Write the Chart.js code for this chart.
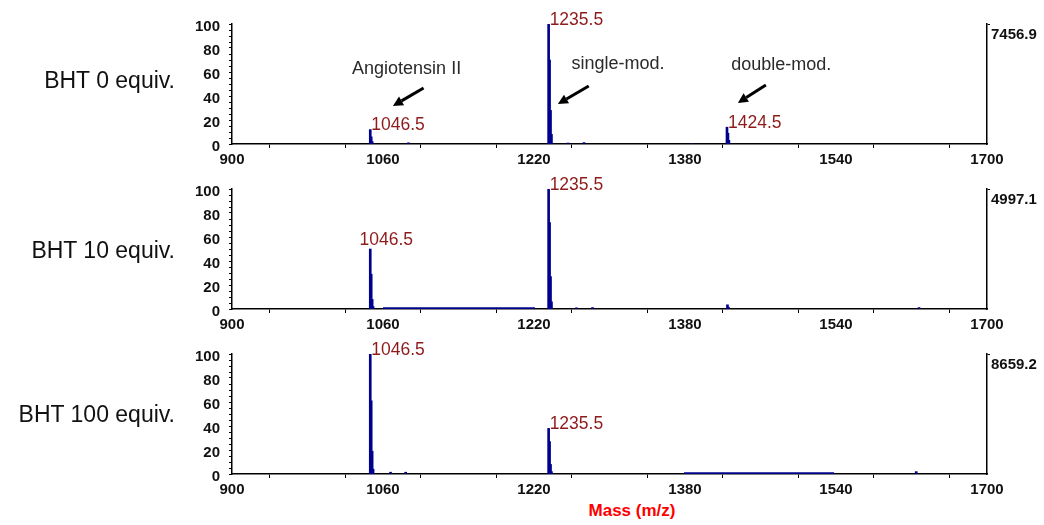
<!DOCTYPE html>
<html><head><meta charset="utf-8">
<script src="https://cdn.jsdelivr.net/npm/chart.js@4.4.1/dist/chart.umd.min.js"></script>
<style>
body{margin:0;background:#fff;}
#wrap{position:relative;width:1044px;height:525px;background:#fff;overflow:hidden;font-family:'Liberation Sans',Arial,sans-serif;}
.panel{position:absolute;left:0;width:1044px;height:170px;}
.rowlab{position:absolute;right:869px;font-size:23px;color:#111;white-space:nowrap;transform:translateY(-50%);}
#xtitle{position:absolute;left:632px;top:511px;transform:translate(-50%,-50%);color:#f00;font-weight:bold;font-size:17px;white-space:nowrap;}
</style></head>
<body><div id="wrap">
<div class="panel" style="top:0"><canvas id="c0" width="1044" height="170"></canvas></div>
<div class="panel" style="top:165px"><canvas id="c1" width="1044" height="170"></canvas></div>
<div class="panel" style="top:330px"><canvas id="c2" width="1044" height="170"></canvas></div>
<div class="rowlab" id="r0" style="top:80px"></div>
<div class="rowlab" id="r1" style="top:250px"></div>
<div class="rowlab" id="r2" style="top:414px"></div>
<div id="xtitle"></div>
</div>
<script>
// ---------- data ----------
const panelLabels = ['BHT 0 equiv.', 'BHT 10 equiv.', 'BHT 100 equiv.'];
const maxCounts = ['7456.9', '4997.1', '8659.2'];
const xTitle = 'Mass (m/z)';
const xMin = 900, xMax = 1700;
const xTickLabels = [900, 1060, 1220, 1380, 1540, 1700];
const yTickLabels = [0, 20, 40, 60, 80, 100];

// BHT 0 equiv.
const mz0  = [1046.5, 1047.5, 1048.5, 1087, 1235.5, 1236.5, 1237.5, 1238.5, 1256, 1273, 1388, 1424.5, 1425.5, 1426.5];
const int0 = [12, 6, 2, 1, 100, 70, 28, 8, 0.8, 1.2, 0.4, 14, 9, 3];
const peaks0 = ['1046.5', '1235.5', '1424.5'];

// BHT 10 equiv.
const mz10  = [1046.5, 1047.5, 1048.5, 1049.5, 1235.5, 1236.5, 1237.5, 1238.5, 1265, 1282, 1425, 1426, 1628];
const int10 = [50, 29, 8, 2, 100, 72, 27, 6, 1, 1.2, 3.5, 1.5, 1.2];
const base10Mz = [1060, 1221];
const base10Int = [0.6, 0.6];
const peaks10 = ['1046.5', '1235.5'];

// BHT 100 equiv.
const mz100  = [1046.5, 1047.5, 1048.5, 1049.5, 1068, 1084, 1235.5, 1236.5, 1237.5, 1238.5, 1625];
const int100 = [100, 61, 19, 4, 1.5, 1.5, 38, 27, 8, 2, 2];
const base100Mz = [1379, 1538];
const base100Int = [0.6, 0.6];
const peaks100 = ['1046.5', '1235.5'];

// annotation texts (top panel)
const annoTexts = ['Angiotensin II', 'single-mod.', 'double-mod.'];

// ---------- styling / layout ----------
Chart.defaults.font.family = "'Liberation Sans', Arial, sans-serif";
const BLUE = '#00008f';
const DARKRED = '#8e1b1b';

const annoLayout = [
  {text: [1085, 62.5], tail: [1103, 46.7], tip: [1070.5, 31.7]},
  {text: [1309, 66.7], tail: [1278, 48.3], tip: [1245.3, 33.3]},
  {text: [1482, 65.8], tail: [1465.7, 49.2], tip: [1436, 34.2]}
];

document.getElementById('r0').textContent = panelLabels[0];
document.getElementById('r1').textContent = panelLabels[1];
document.getElementById('r2').textContent = panelLabels[2];
document.getElementById('xtitle').textContent = xTitle;

function pts(xs, ys) { return xs.map((x, i) => ({x: x, y: ys[i]})); }

function peakLabelPlugin(labels, mzs, ints, aboveSet) {
  return {
    id: 'peakLabels',
    afterDatasetsDraw(chart) {
      const ctx = chart.ctx, xs = chart.scales.x, ys = chart.scales.y;
      ctx.save();
      ctx.font = "17.5px 'Liberation Sans', Arial, sans-serif";
      ctx.fillStyle = DARKRED;
      labels.forEach(lab => {
        const m = parseFloat(lab);
        const idx = mzs.indexOf(m);
        const v = ints[idx];
        const px = xs.getPixelForValue(m), py = ys.getPixelForValue(v);
        if (aboveSet.includes(lab)) {
          ctx.textAlign = 'center'; ctx.textBaseline = 'alphabetic';
          ctx.fillText(lab, px + 16, py - 4);
        } else {
          ctx.textAlign = 'left'; ctx.textBaseline = 'middle';
          ctx.fillText(lab, px + 1, py - 4);
        }
      });
      ctx.restore();
    }
  };
}

const annoPlugin = {
  id: 'anno',
  afterDatasetsDraw(chart) {
    const ctx = chart.ctx, xs = chart.scales.x, ys = chart.scales.y;
    ctx.save();
    annoLayout.forEach((a, i) => {
      ctx.font = "18px 'Liberation Sans', Arial, sans-serif";
      ctx.fillStyle = '#2a2a2a';
      ctx.textAlign = 'center'; ctx.textBaseline = 'middle';
      ctx.fillText(annoTexts[i], xs.getPixelForValue(a.text[0]), ys.getPixelForValue(a.text[1]));
      const x1 = xs.getPixelForValue(a.tail[0]), y1 = ys.getPixelForValue(a.tail[1]);
      const x2 = xs.getPixelForValue(a.tip[0]), y2 = ys.getPixelForValue(a.tip[1]);
      const ang = Math.atan2(y2 - y1, x2 - x1);
      const hl = 10, hw = 5;
      const bx = x2 - hl * Math.cos(ang), by = y2 - hl * Math.sin(ang);
      ctx.strokeStyle = '#000'; ctx.lineWidth = 3; ctx.lineCap = 'butt';
      ctx.beginPath(); ctx.moveTo(x1, y1); ctx.lineTo(bx, by); ctx.stroke();
      ctx.fillStyle = '#000';
      ctx.beginPath();
      ctx.moveTo(x2, y2);
      ctx.lineTo(bx + hw * Math.sin(ang), by - hw * Math.cos(ang));
      ctx.lineTo(bx - hw * Math.sin(ang), by + hw * Math.cos(ang));
      ctx.closePath(); ctx.fill();
    });
    ctx.restore();
  }
};

function makeChart(id, mzs, ints, baseMz, baseInt, maxLabel, labels, aboveSet, extraPlugins) {
  const datasets = [{
    type: 'bar',
    data: pts(mzs, ints),
    backgroundColor: BLUE,
    borderWidth: 0,
    barThickness: 2,
    grouped: false,
    order: 1
  }];
  if (baseMz) {
    datasets.push({
      type: 'line',
      data: pts(baseMz, baseInt),
      borderColor: BLUE,
      borderWidth: 2.2,
      pointRadius: 0,
      fill: false,
      order: 0
    });
  }
  return new Chart(document.getElementById(id), {
    type: 'bar',
    data: {datasets},
    options: {
      responsive: false,
      animation: false,
      layout: {padding: {top: 24, left: 0, right: 0, bottom: 0}},
      plugins: {legend: {display: false}, tooltip: {enabled: false}},
      scales: {
        x: {
          type: 'linear', min: xMin, max: xMax, offset: false,
          afterFit(s) { s.height = 26; },
          afterBuildTicks(s) {
            const t = [];
            for (let v = xMin; v <= xMax; v += 80) t.push({value: v});
            s.ticks = t;
          },
          ticks: {
            autoSkip: false, maxRotation: 0, padding: 3, color: '#111',
            font: {size: 15, weight: 'bold'},
            callback: (v) => xTickLabels.includes(v) ? String(v) : ''
          },
          grid: {drawOnChartArea: false, tickLength: 4, tickColor: '#000', tickWidth: 1},
          border: {display: true, color: '#000', width: 1.5}
        },
        y: {
          position: 'left', min: 0, max: 100,
          afterFit(s) { s.width = 232; },
          afterBuildTicks(s) {
            const t = [];
            for (let v = 0; v <= 100; v += 5) t.push({value: v});
            s.ticks = t;
          },
          ticks: {
            autoSkip: false, padding: 9, color: '#111', labelOffset: 3,
            font: {size: 15, weight: 'bold'},
            callback: (v) => yTickLabels.includes(v) ? String(v) : ''
          },
          grid: {drawOnChartArea: false, tickLength: 3, tickColor: '#000', tickWidth: 1},
          border: {display: true, color: '#000', width: 1.5}
        },
        y2: {
          position: 'right', min: 0, max: 100,
          afterFit(s) { s.width = 57; },
          afterBuildTicks(s) { s.ticks = [{value: 100}]; },
          ticks: {
            autoSkip: false, padding: 1, color: '#111', labelOffset: 11,
            font: {size: 15, weight: 'bold'},
            callback: () => maxLabel
          },
          grid: {drawOnChartArea: false, tickLength: 3, tickColor: '#000'},
          border: {display: true, color: '#000', width: 1.5}
        }
      }
    },
    plugins: [peakLabelPlugin(labels, mzs, ints, aboveSet)].concat(extraPlugins || [])
  });
}

makeChart('c0', mz0, int0, null, null, maxCounts[0], peaks0, [], [annoPlugin]);
makeChart('c1', mz10, int10, base10Mz, base10Int, maxCounts[1], peaks10, ['1046.5']);
makeChart('c2', mz100, int100, base100Mz, base100Int, maxCounts[2], peaks100, []);
</script>
</body></html>
